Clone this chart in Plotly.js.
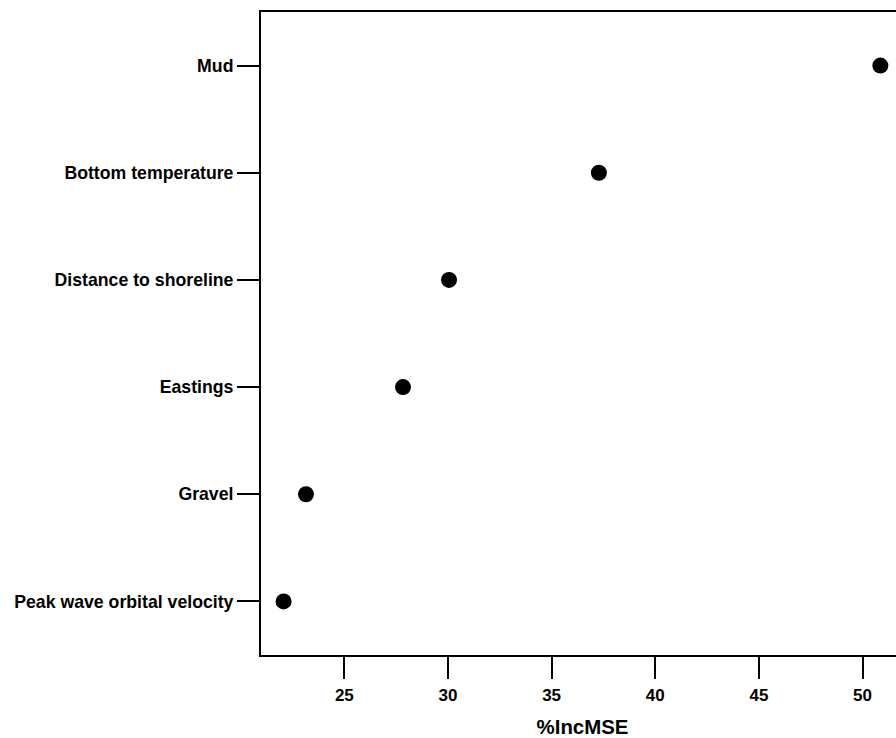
<!DOCTYPE html>
<html>
<head>
<meta charset="utf-8">
<script src="https://cdn.plot.ly/plotly-3.0.1.min.js"></script>
<style>
html, body { margin: 0; padding: 0; overflow: hidden; background: #fff; }
#chart { width: 904px; height: 738px; }
</style>
</head>
<body>
<div id="chart"></div>
<script>
const variables = ["Peak wave orbital velocity", "Gravel", "Eastings", "Distance to shoreline", "Bottom temperature", "Mud"];
const incMSE = [22.07, 23.15, 27.83, 30.05, 37.28, 50.86];
const xTickValues = [25, 30, 35, 40, 45, 50];
const positions = variables.map((_, i) => i + 1);

const font = { family: "Liberation Sans, Arial, sans-serif", color: "#000", weight: "bold" };

const trace = {
  type: "scatter",
  mode: "markers",
  x: incMSE,
  y: positions,
  marker: { color: "#000", size: 16, symbol: "circle" },
  hoverinfo: "x+text",
  text: variables
};

const layout = {
  width: 904,
  height: 738,
  margin: { l: 261, r: 0, t: 12, b: 83, pad: 0 },
  paper_bgcolor: "#fff",
  plot_bgcolor: "#fff",
  showlegend: false,
  font: font,
  xaxis: {
    range: [20.98, 52.0],
    tickvals: xTickValues,
    ticktext: xTickValues.map(String),
    ticks: "outside",
    ticklen: 22,
    tickwidth: 2,
    tickcolor: "#000",
    ticklabelstandoff: 2,
    showline: true,
    linecolor: "#000",
    linewidth: 2,
    mirror: true,
    showgrid: false,
    zeroline: false,
    tickfont: Object.assign({}, font, { size: 17 }),
    title: { text: "%IncMSE", font: Object.assign({}, font, { size: 20.4 }), standoff: 18 }
  },
  yaxis: {
    range: [0.5, 6.5],
    tickvals: positions,
    ticktext: variables,
    ticks: "outside",
    ticklen: 22,
    tickwidth: 2,
    tickcolor: "#000",
    showline: true,
    linecolor: "#000",
    linewidth: 2,
    mirror: true,
    showgrid: false,
    zeroline: false,
    tickfont: Object.assign({}, font, { size: 17.7 })
  }
};

Plotly.newPlot("chart", [trace], layout, { displayModeBar: false, staticPlot: true });
</script>
</body>
</html>
